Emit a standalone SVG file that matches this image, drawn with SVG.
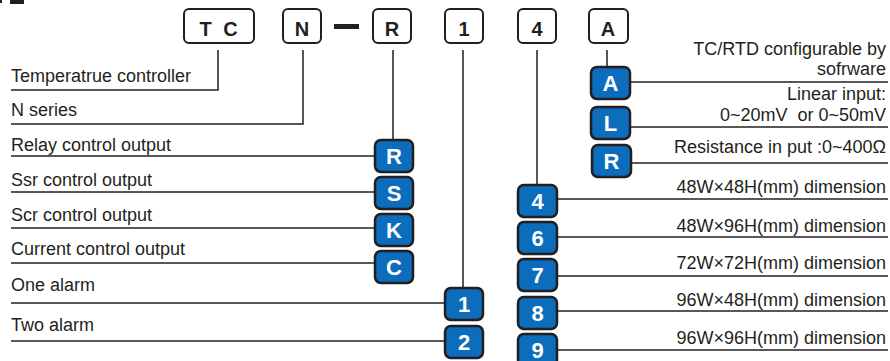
<svg xmlns="http://www.w3.org/2000/svg" width="890" height="361" viewBox="0 0 890 361">
<style>
.bg{fill:#ffffff}
.code{fill:#ffffff;stroke:#231f20;stroke-width:2}
.codet{font-family:"Liberation Sans",Arial,sans-serif;font-weight:bold;font-size:20px;fill:#231f20;text-anchor:middle}
.opt{fill:#0b6dbb;stroke:#231f20;stroke-width:2.5}
.optt{font-family:"Liberation Sans",Arial,sans-serif;font-weight:bold;font-size:22px;fill:#ffffff;text-anchor:middle}
.lbl{font-family:"Liberation Sans",Arial,sans-serif;font-size:18px;fill:#231f20}
.r{text-anchor:end}
.ln{fill:none;stroke:#231f20;stroke-width:1.5}
</style>
<rect class="bg" x="0" y="0" width="890" height="361"/>
<rect x="10" y="0" width="14" height="4" fill="#231f20"/>
<rect x="0" y="0" width="2" height="3" fill="#231f20"/>

<g id="connectors">
<path class="ln" d="M218,50 V90 H11"/>
<path class="ln" d="M303,50 V124 H11"/>
<path class="ln" d="M393,50 V141"/>
<path class="ln" d="M463,50 V288"/>
<path class="ln" d="M537,50 V185"/>
<path class="ln" d="M607,50 V67"/>
<path class="ln" d="M11,156 H375"/>
<path class="ln" d="M11,192 H375"/>
<path class="ln" d="M11,228 H375"/>
<path class="ln" d="M11,263 H375"/>
<path class="ln" d="M11,303 H445"/>
<path class="ln" d="M11,341 H445"/>
<path class="ln" d="M630,82 H888"/>
<path class="ln" d="M630,127 H888"/>
<path class="ln" d="M631,163 H888"/>
<path class="ln" d="M557,199 H888"/>
<path class="ln" d="M557,237 H888"/>
<path class="ln" d="M557,276 H888"/>
<path class="ln" d="M557,311 H888"/>
<path class="ln" d="M557,350 H888"/>
</g>

<g id="code-TC"><rect class="code" x="184" y="9" width="70" height="34" rx="5"/><text class="codet" x="220" y="36" letter-spacing="3">T C</text></g>
<g id="code-N"><rect class="code" x="283" y="9" width="38" height="34" rx="5"/><text class="codet" x="302" y="36">N</text></g>
<g id="dash"><rect x="334" y="24" width="25" height="5" fill="#231f20"/></g>
<g id="code-R"><rect class="code" x="373" y="9" width="38" height="34" rx="5"/><text class="codet" x="392" y="36">R</text></g>
<g id="code-1"><rect class="code" x="445" y="9" width="38" height="34" rx="5"/><text class="codet" x="464" y="36">1</text></g>
<g id="code-4"><rect class="code" x="518" y="9" width="38" height="34" rx="5"/><text class="codet" x="537" y="36">4</text></g>
<g id="code-A"><rect class="code" x="589" y="9" width="39" height="34" rx="5"/><text class="codet" x="608" y="36">A</text></g>

<g id="lbl-tc"><text class="lbl" x="11" y="82">Temperatrue controller</text></g>
<g id="lbl-n"><text class="lbl" x="11" y="116">N series</text></g>

<g id="opt-R"><rect class="opt" x="375" y="140" width="38" height="32" rx="6"/><text class="optt" x="394" y="164">R</text><text class="lbl" x="11" y="151">Relay control output</text></g>
<g id="opt-S"><rect class="opt" x="375" y="177" width="38" height="32" rx="6"/><text class="optt" x="394" y="201">S</text><text class="lbl" x="11" y="186">Ssr control output</text></g>
<g id="opt-K"><rect class="opt" x="375" y="214" width="38" height="32" rx="6"/><text class="optt" x="394" y="238">K</text><text class="lbl" x="11" y="221">Scr control output</text></g>
<g id="opt-C"><rect class="opt" x="375" y="251" width="38" height="32" rx="6"/><text class="optt" x="394" y="275">C</text><text class="lbl" x="11" y="255">Current control output</text></g>

<g id="opt-1"><rect class="opt" x="445" y="288" width="38" height="32" rx="6"/><text class="optt" x="464" y="312">1</text><text class="lbl" x="11" y="291">One alarm</text></g>
<g id="opt-2"><rect class="opt" x="445" y="326" width="38" height="32" rx="6"/><text class="optt" x="464" y="350">2</text><text class="lbl" x="11" y="331">Two alarm</text></g>

<g id="opt-A"><rect class="opt" x="591" y="67" width="39" height="32" rx="6"/><text class="optt" x="610.5" y="91">A</text><text class="lbl r" x="886" y="55">TC/RTD configurable by</text><text class="lbl r" x="886" y="75">sofrware</text></g>
<g id="opt-L"><rect class="opt" x="591" y="107" width="39" height="32" rx="6"/><text class="optt" x="610.5" y="131">L</text><text class="lbl r" x="886" y="100">Linear input:</text><text class="lbl r" x="886" y="121" xml:space="preserve">0~20mV  or 0~50mV</text></g>
<g id="opt-Rin"><rect class="opt" x="592" y="145" width="39" height="32" rx="6"/><text class="optt" x="611.5" y="169">R</text><text class="lbl r" x="886" y="153">Resistance in put :0~400Ω</text></g>

<g id="opt-4"><rect class="opt" x="518" y="185" width="39" height="32" rx="6"/><text class="optt" x="537.5" y="209">4</text><text class="lbl r" x="886" y="193">48W×48H(mm) dimension</text></g>
<g id="opt-6"><rect class="opt" x="518" y="222" width="39" height="32" rx="6"/><text class="optt" x="537.5" y="246">6</text><text class="lbl r" x="886" y="232">48W×96H(mm) dimension</text></g>
<g id="opt-7"><rect class="opt" x="518" y="259" width="39" height="32" rx="6"/><text class="optt" x="537.5" y="283">7</text><text class="lbl r" x="886" y="269">72W×72H(mm) dimension</text></g>
<g id="opt-8"><rect class="opt" x="518" y="297" width="39" height="32" rx="6"/><text class="optt" x="537.5" y="321">8</text><text class="lbl r" x="886" y="306">96W×48H(mm) dimension</text></g>
<g id="opt-9"><rect class="opt" x="518" y="334" width="39" height="32" rx="6"/><text class="optt" x="537.5" y="358">9</text><text class="lbl r" x="886" y="344">96W×96H(mm) dimension</text></g>
</svg>
